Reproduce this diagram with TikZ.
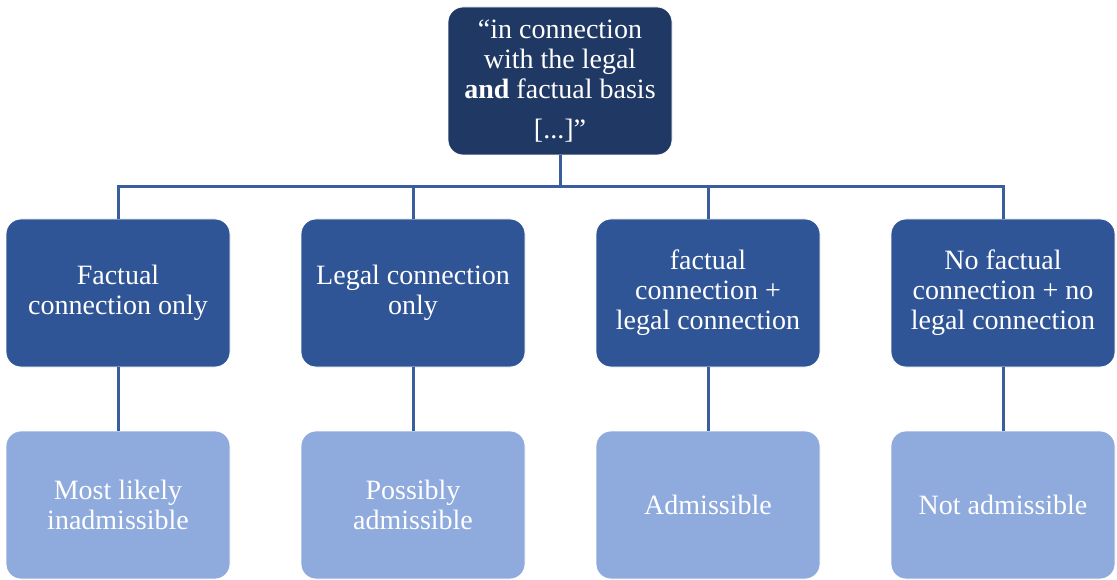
\documentclass[tikz,border=0pt]{standalone}
\usepackage{fontspec}
\setmainfont{Liberation Serif}
\definecolor{navy}{HTML}{203864}
\definecolor{midblue}{HTML}{2F5597}
\definecolor{paleblue}{HTML}{8FAADC}
\definecolor{linkblue}{HTML}{3A5DA0}
\begin{document}
\begin{tikzpicture}[x=1pt,y=-1pt,
  card/.style={rectangle, rounded corners=15pt, minimum width=224pt, minimum height=148pt,
    inner sep=0pt, align=center, text=white, draw=white, line width=0.8pt,
    font=\fontsize{28}{30}\selectfont},
  topcard/.style={card, fill=navy},
  midcard/.style={card, fill=midblue},
  lowcard/.style={card, fill=paleblue},
  link/.style={draw=linkblue, line width=3pt}]
\useasboundingbox (0,0) rectangle (1117,580);

% root node
\node[topcard] (top) at (560,81) {``in connection\\with the legal\\\textbf{and} factual basis\\[10pt][...]''};

% second level: kinds of connection
\node[midcard] (b1) at (118,293) {Factual\\connection only};
\node[midcard] (b2) at (413,293) {Legal connection\\only};
\node[midcard] (b3) at (708,293) {factual\\connection +\\legal connection};
\node[midcard] (b4) at (1003,293) {No factual\\connection + no\\legal connection};

% third level: outcome
\node[lowcard] (c1) at (118,505) {Most likely\\inadmissible};
\node[lowcard] (c2) at (413,505) {Possibly\\admissible};
\node[lowcard] (c3) at (708,505) {Admissible};
\node[lowcard] (c4) at (1003,505) {Not admissible};

% connectors
\foreach \i in {1,...,4}{
  \draw[link] (top.south) -- ++(0,31) -| (b\i.north);
  \draw[link] (b\i.south) -- (c\i.north);
}
\end{tikzpicture}
\end{document}
